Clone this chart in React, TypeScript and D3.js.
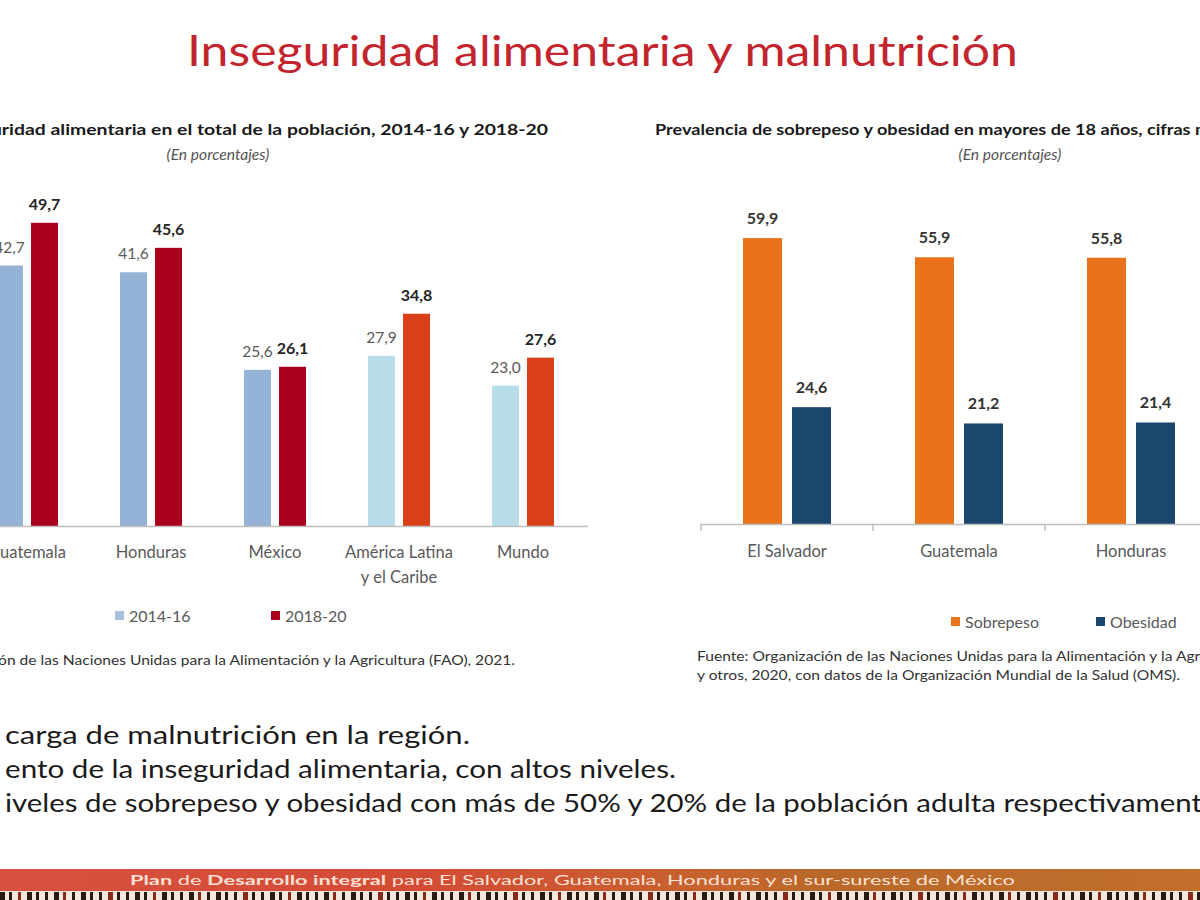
import React from "react";
import * as d3 from "d3";

// ---------- data ----------
const leftCategories = ["Guatemala", "Honduras", "México", "América Latina|y el Caribe", "Mundo"];
const leftSeries = ["2014-16", "2018-20"];
const values2014_16 = [42.7, 41.6, 25.6, 27.9, 23.0];
const values2018_20 = [49.7, 45.6, 26.1, 34.8, 27.6];

const rightCategories = ["El Salvador", "Guatemala", "Honduras"];
const rightSeries = ["Sobrepeso", "Obesidad"];
const sobrepeso = [59.9, 55.9, 55.8];
const obesidad = [24.6, 21.2, 21.4];

const bulletLines = [
  "carga de malnutrición en la región.",
  "ento de la inseguridad alimentaria, con altos niveles.",
  "iveles de sobrepeso y obesidad con más de 50% y 20% de la población adulta respectivament",
];

// ---------- styles ----------
const FONT = "Lato, 'Open Sans', sans-serif";
const lightColors = ["#95b3d7", "#95b3d7", "#95b3d7", "#b7dee8", "#b7dee8"];
const redColors = ["#a8001c", "#a8001c", "#a8001c", "#d9401a", "#d9401a"];
const ORANGE = "#e8731a";
const NAVY = "#1b466e";

const fmt = (v: number) => v.toFixed(1).replace(".", ",");

export default function App() {
  // Left chart scales
  const xL = d3.scaleBand<string>().domain(leftCategories).range([-35, 585]).paddingInner(0.5).paddingOuter(0.25);
  const xL1 = d3.scaleBand<string>().domain(leftSeries).range([0, xL.bandwidth()]).paddingInner(8 / 35);
  const yL = d3.scaleLinear().domain([0, 50]).range([526, 221]);

  // Right chart scales
  const xR = d3.scaleBand<string>().domain(rightCategories).range([701, 1217]).paddingInner(1 - 88 / 172).paddingOuter((1 - 88 / 172) / 2);
  const xR1 = d3.scaleBand<string>().domain(rightSeries).range([0, xR.bandwidth()]).paddingInner(10 / 49);
  const yR = d3.scaleLinear().domain([0, 60]).range([525, 237.6]);

  const stripes = d3.range(0, 1200, 9);

  return (
    <svg
      width={1200}
      height={900}
      style={{ position: "absolute", left: 0, top: 0, background: "#fff" }}
      fontFamily={FONT}
    >
      <defs>
        <linearGradient id="foot" x1="0" x2="1" y1="0" y2="0">
          <stop offset="0" stopColor="#d8503f" />
          <stop offset="0.35" stopColor="#d44b35" />
          <stop offset="0.62" stopColor="#c4662e" />
          <stop offset="0.68" stopColor="#b8682a" />
          <stop offset="1" stopColor="#c26f2c" />
        </linearGradient>
      </defs>
      <rect x={0} y={0} width={1200} height={900} fill="#fff" />

      {/* Main title */}
      <text x={187} y={66} fontSize={42} fill="#c3252e" textLength={831} lengthAdjust="spacingAndGlyphs">
        Inseguridad alimentaria y malnutrición
      </text>

      {/* ---------- Left chart ---------- */}
      <g transform="translate(548,135) scale(1.25,1)">
        <text x={0} y={0} fontSize={15.5} fontWeight={700} fill="#1a1a1a" textAnchor="end">
          Inseguridad alimentaria en el total de la población, 2014-16 y 2018-20
        </text>
      </g>
      <g transform="translate(218,160) scale(1.08,1)">
        <text x={0} y={0} fontSize={14.5} fontStyle="italic" fill="#555" textAnchor="middle">
          (En porcentajes)
        </text>
      </g>

      {leftCategories.map((c, i) => {
        const x0 = xL(c)!;
        const a = values2014_16[i];
        const b = values2018_20[i];
        const xa = x0 + xL1("2014-16")!;
        const xb = x0 + xL1("2018-20")!;
        const w = xL1.bandwidth();
        return (
          <g key={c}>
            <rect x={xa} y={yL(a)} width={w} height={yL(0) - yL(a)} fill={lightColors[i]} />
            <rect x={xb} y={yL(b)} width={w} height={yL(0) - yL(b)} fill={redColors[i]} />
            <text x={xa + w / 2} y={yL(a) - 13} fontSize={15.5} fill="#5a5a5a" textAnchor="middle">
              {fmt(a)}
            </text>
            <text x={xb + w / 2} y={yL(b) - 13} fontSize={16} fontWeight={700} fill="#262626" textAnchor="middle">
              {fmt(b)}
            </text>
            {c.split("|").map((line, k) => (
              <text
                key={k}
                x={x0 + xL.bandwidth() / 2}
                y={558 + k * 25}
                fontSize={16.5}
                fill="#595959"
                textAnchor="middle"
              >
                {line}
              </text>
            ))}
          </g>
        );
      })}
      <line x1={0} x2={588} y1={526.5} y2={526.5} stroke="#bfbfbf" strokeWidth={1.5} />

      {/* Left legend */}
      <rect x={115} y={611} width={9} height={9} fill="#a9c1db" />
      <text x={129} y={622} fontSize={16} fill="#595959">2014-16</text>
      <rect x={271} y={611} width={9} height={9} fill="#a8001c" />
      <text x={285} y={622} fontSize={16} fill="#595959">2018-20</text>

      <g transform="translate(515,665) scale(1.25,1)">
        <text x={0} y={0} fontSize={12.5} fill="#333" textAnchor="end">
          Fuente: Organización de las Naciones Unidas para la Alimentación y la Agricultura (FAO), 2021.
        </text>
      </g>

      {/* ---------- Right chart ---------- */}
      <g transform="translate(655,135) scale(1.17,1)">
        <text x={0} y={0} fontSize={15.5} fontWeight={700} fill="#1a1a1a">
          Prevalencia de sobrepeso y obesidad en mayores de 18 años, cifras más recientes
        </text>
      </g>
      <g transform="translate(1010,160) scale(1.08,1)">
        <text x={0} y={0} fontSize={14.5} fontStyle="italic" fill="#555" textAnchor="middle">
          (En porcentajes)
        </text>
      </g>

      {rightCategories.map((c, i) => {
        const x0 = xR(c)!;
        const a = sobrepeso[i];
        const b = obesidad[i];
        const xa = x0 + xR1("Sobrepeso")!;
        const xb = x0 + xR1("Obesidad")!;
        const w = xR1.bandwidth();
        return (
          <g key={c}>
            <rect x={xa} y={yR(a)} width={w} height={yR(0) - yR(a)} fill={ORANGE} />
            <rect x={xb} y={yR(b)} width={w} height={yR(0) - yR(b)} fill={NAVY} />
            <text x={xa + w / 2} y={yR(a) - 14} fontSize={16} fontWeight={700} fill="#333" textAnchor="middle">
              {fmt(a)}
            </text>
            <text x={xb + w / 2} y={yR(b) - 14} fontSize={16} fontWeight={700} fill="#333" textAnchor="middle">
              {fmt(b)}
            </text>
            <text x={x0 + xR.bandwidth() / 2} y={557} fontSize={16.5} fill="#595959" textAnchor="middle">
              {c}
            </text>
          </g>
        );
      })}
      <line x1={700} x2={1200} y1={524.5} y2={524.5} stroke="#bfbfbf" strokeWidth={1.5} />
      {rightCategories.map((c) => (
        <line key={c} x1={xR(c)! - (xR.step() - xR.bandwidth()) / 2} x2={xR(c)! - (xR.step() - xR.bandwidth()) / 2} y1={524} y2={531} stroke="#bfbfbf" strokeWidth={1.5} />
      ))}

      {/* Right legend */}
      <rect x={951} y={617} width={9} height={9} fill={ORANGE} />
      <text x={965} y={628} fontSize={16} fill="#595959">Sobrepeso</text>
      <rect x={1096} y={617} width={9} height={9} fill={NAVY} />
      <text x={1110} y={628} fontSize={16} fill="#595959">Obesidad</text>

      <g transform="translate(697,661) scale(1.25,1)">
        <text x={0} y={0} fontSize={12.5} fill="#333">
          Fuente: Organización de las Naciones Unidas para la Alimentación y la Agricultura (FAO)
        </text>
        <text x={0} y={19} fontSize={12.5} fill="#333">
          y otros, 2020, con datos de la Organización Mundial de la Salud (OMS).
        </text>
      </g>

      {/* ---------- Bullets ---------- */}
      {bulletLines.map((t, i) => (
        <text
          key={i}
          x={5}
          y={744 + i * 34}
          fontSize={25}
          fill="#1a1a1a"
          textLength={[465, 671, 1197][i]}
          lengthAdjust="spacingAndGlyphs"
        >
          {t}
        </text>
      ))}

      {/* ---------- Footer ---------- */}
      <rect x={0} y={869} width={1200} height={22} fill="url(#foot)" />
      <text x={130} y={885} fontSize={12.5} fill="#fbe0d2" textLength={885} lengthAdjust="spacingAndGlyphs">
        <tspan fontWeight={700}>Plan</tspan>
        <tspan> de </tspan>
        <tspan fontWeight={700}>Desarrollo integral</tspan>
        <tspan> para El Salvador, Guatemala, Honduras y el sur-sureste de México</tspan>
      </text>
      <rect x={0} y={891} width={1200} height={9} fill="#f3e6dc" />
      {stripes.map((s, i) => (
        <rect key={s} x={s} y={892} width={i % 3 === 0 ? 5 : 3} height={8} fill={i % 5 === 2 ? "#8a2a1a" : "#2a1a14"} />
      ))}
    </svg>
  );
}
